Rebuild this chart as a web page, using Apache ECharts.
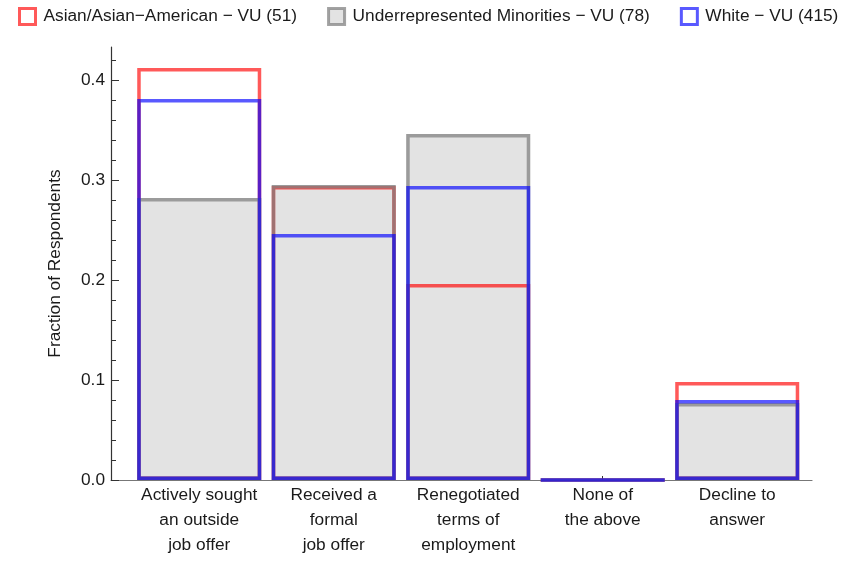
<!DOCTYPE html>
<html>
<head>
<meta charset="utf-8">
<script src="https://cdn.jsdelivr.net/npm/echarts@6/dist/echarts.min.js"></script>
<style>html,body{margin:0;padding:0;background:#fff;}#c{width:863px;height:571px;}</style>
</head>
<body>
<div id="c"></div>
<script>
var categories = [
  "Actively sought\nan outside\njob offer",
  "Received a\nformal\njob offer",
  "Renegotiated\nterms of\nemployment",
  "None of\nthe above",
  "Decline to\nanswer"
];
var seriesNames = [
  "Asian/Asian\u2212American \u2212 VU (51)",
  "Underrepresented Minorities \u2212 VU (78)",
  "White \u2212 VU (415)"
];
var asianValues = [0.412, 0.294, 0.196, 0.0, 0.098];
var urmValues   = [0.282, 0.295, 0.346, 0.0, 0.077];
var whiteValues = [0.381, 0.246, 0.294, 0.0, 0.080];
var yMajorTicks = [0, 0.1, 0.2, 0.3, 0.4];
var yMinorTicks = [0.02,0.04,0.06,0.08,0.12,0.14,0.16,0.18,0.22,0.24,0.26,0.28,0.32,0.34,0.36,0.38,0.42];
var xTickPositions = [0, 1, 2, 3, 4];

function toPairs(vals){ return vals.map(function(v,i){ return [i, v]; }); }

var FONT = "Liberation Sans, Arial, sans-serif";
var FS = 17.3;
var RED = "rgba(255,0,0,0.65)", GRAY = "rgba(128,128,128,0.72)", BLUE = "rgba(0,0,255,0.65)";
var FILL = "#e3e3e3";
var BW = 124, LW = 3.5;

var chart = echarts.init(document.getElementById('c'), null, {renderer:'canvas'});
chart.setOption({
  animation: false,
  textStyle: {fontFamily: FONT},
  legend: {
    left: 18, top: 7, padding: 0, itemWidth: 16, itemHeight: 16, itemGap: 30, icon: 'rect',
    textStyle: {fontSize: FS, color: '#1a1a1a', fontFamily: FONT, padding: [0,0,0,3]},
    data: [
      {name: seriesNames[0], itemStyle: {color: '#fff', borderColor: RED, borderWidth: 3}},
      {name: seriesNames[1], itemStyle: {color: FILL, borderColor: GRAY, borderWidth: 3}},
      {name: seriesNames[2], itemStyle: {color: '#fff', borderColor: BLUE, borderWidth: 3}}
    ]
  },
  grid: {left: 111, right: 51, top: 47, bottom: 91},
  xAxis: {
    type: 'value', min: -0.656, max: 4.556,
    splitLine: {show: false},
    axisLine: {show: true, onZero: false, lineStyle: {color: '#777', width: 1.2}},
    axisTick: {show: true, inside: true, length: 4, customValues: xTickPositions, lineStyle: {color: '#333'}},
    axisLabel: {
      customValues: xTickPositions,
      formatter: function(v){ return categories[Math.round(v)]; },
      fontSize: FS, lineHeight: 25, color: '#1a1a1a', margin: 3, fontFamily: FONT
    }
  },
  yAxis: [{
    type: 'value', min: 0, max: 0.433,
    name: 'Fraction of Respondents', nameLocation: 'middle', nameGap: 47, nameRotate: 90,
    nameTextStyle: {fontSize: FS, color: '#1a1a1a', fontFamily: FONT},
    splitLine: {show: false},
    axisLine: {show: true, onZero: false, lineStyle: {color: '#333', width: 1.2}},
    axisTick: {show: true, inside: true, length: 8, customValues: yMajorTicks, lineStyle: {color: '#333'}},
    axisLabel: {customValues: yMajorTicks, formatter: function(v){ return v.toFixed(1); },
      fontSize: FS, color: '#1a1a1a', margin: 6, fontFamily: FONT}
  },{
    type: 'value', min: 0, max: 0.433, position: 'left', offset: 0,
    splitLine: {show: false}, axisLine: {show: false, onZero: false},
    axisLabel: {show: false},
    axisTick: {show: true, inside: true, length: 5, customValues: yMinorTicks, lineStyle: {color: '#333'}}
  }],
  series: [
    {name: 'urm-fill', type: 'bar', barWidth: BW, barGap: '-100%', data: toPairs(urmValues),
      itemStyle: {color: FILL, borderWidth: 0}, silent: true},
    {name: seriesNames[0], type: 'bar', barWidth: BW, barGap: '-100%', data: toPairs(asianValues),
      itemStyle: {color: 'rgba(0,0,0,0)', borderColor: RED, borderWidth: LW}},
    {name: seriesNames[1], type: 'bar', barWidth: BW, barGap: '-100%', data: toPairs(urmValues),
      itemStyle: {color: 'rgba(0,0,0,0)', borderColor: GRAY, borderWidth: LW}},
    {name: seriesNames[2], type: 'bar', barWidth: BW, barGap: '-100%', data: toPairs(whiteValues),
      itemStyle: {color: 'rgba(0,0,0,0)', borderColor: BLUE, borderWidth: LW}}
  ]
});
</script>
</body>
</html>
